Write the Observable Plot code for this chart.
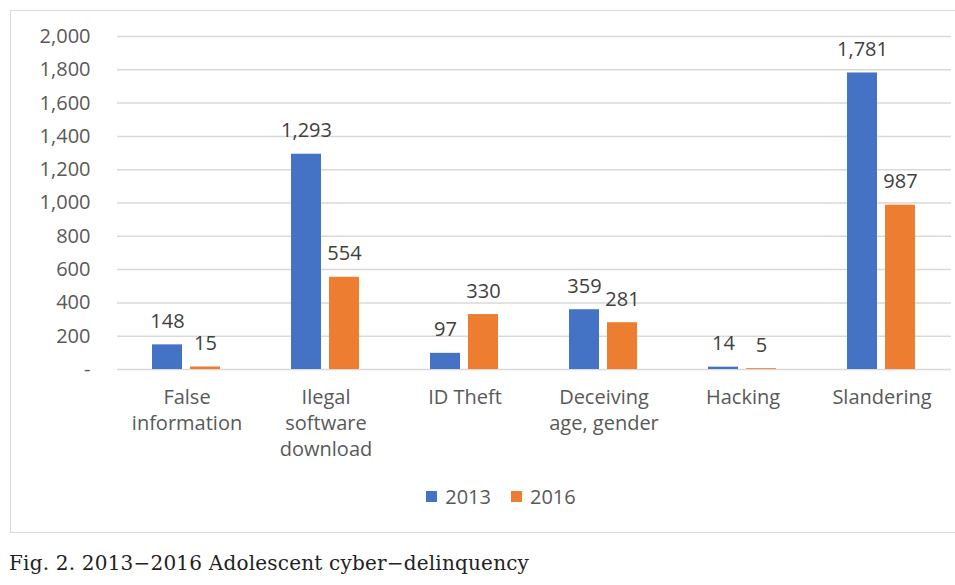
<!DOCTYPE html>
<html>
<head>
<meta charset="utf-8">
<script src="https://cdn.jsdelivr.net/npm/d3@7"></script>
<script src="https://cdn.jsdelivr.net/npm/@observablehq/plot@0.6"></script>
<style>
  html, body { margin: 0; padding: 0; background: #fff; width: 955px; height: 585px; overflow: hidden; position: relative; }
  .box { position: absolute; left: 10px; top: 10px; width: 980px; height: 521px; border: 1.5px solid #d9d9d9; }
  #chart { position: absolute; left: 0; top: 0; }
  .legend { position: absolute; top: 483px; left: 0; width: 1002px; display: flex; justify-content: center; align-items: center; gap: 0; font-family: "Open Sans", sans-serif; font-size: 20px; color: #595959; }
  .legend .item { display: flex; align-items: center; margin: 0 10px; }
  .legend .sw { width: 11px; height: 11px; margin-right: 8px; }
  .caption { position: absolute; left: 9px; top: 551px; font-family: "DejaVu Serif", serif; font-size: 20px; letter-spacing: 0.2px; color: #222; white-space: nowrap; }
</style>
</head>
<body>
<div class="box"></div>
<div id="chart"></div>
<div class="legend" id="legend"></div>
<div class="caption">Fig. 2. 2013−2016 Adolescent cyber−delinquency</div>
<script>
const categories = ["False\ninformation", "Ilegal\nsoftware\ndownload", "ID Theft", "Deceiving\nage, gender", "Hacking", "Slandering"];
const years = ["2013", "2016"];
const values2013 = [148, 1293, 97, 359, 14, 1781];
const values2016 = [15, 554, 330, 281, 5, 987];
const yTicks = [0, 200, 400, 600, 800, 1000, 1200, 1400, 1600, 1800, 2000];
const colors = ["#4472C4", "#ED7D31"];

const data = [];
categories.forEach((c, i) => {
  data.push({cat: c, year: years[0], value: values2013[i]});
  data.push({cat: c, year: years[1], value: values2016[i]});
});
const fmt = d3.format(",");
const font = "'Open Sans', sans-serif";

const chart = Plot.plot({
  width: 955,
  height: 470,
  marginLeft: 115,
  marginRight: 2,
  marginTop: 36,
  marginBottom: 101,
  style: {fontFamily: font, fontSize: "20px", color: "#595959", background: "transparent"},
  fx: {domain: categories, padding: 0, label: null},
  x: {domain: years, paddingInner: 0.2, paddingOuter: 0.9, axis: null},
  y: {domain: [0, 2000], label: null},
  color: {domain: years, range: colors},
  marks: [
    Plot.gridY(yTicks, {stroke: "#d9d9d9", strokeOpacity: 1, strokeWidth: 1.5}),
    Plot.axisY({ticks: yTicks, tickSize: 0, tickPadding: 27, label: null,
      tickFormat: d => d === 0 ? "-" : fmt(d), fontSize: 20, fill: "#595959"}),
    Plot.barY(data, {fx: "cat", x: "year", y: "value", fill: "year"}),
    Plot.text(data, {fx: "cat", x: "year", y: "value", text: d => fmt(d.value),
      lineAnchor: "bottom", dy: -17, fontSize: 20, fill: "#404040"}),
    Plot.axisFx({anchor: "bottom", tickSize: 0, tickPadding: 16, label: null,
      lineHeight: 1.3, fontSize: 20, fill: "#595959"})
  ]
});
document.getElementById("chart").appendChild(chart);

const legend = document.getElementById("legend");
years.forEach((y, i) => {
  const item = document.createElement("div");
  item.className = "item";
  const sw = document.createElement("span");
  sw.className = "sw";
  sw.style.background = colors[i];
  const t = document.createElement("span");
  t.textContent = y;
  item.appendChild(sw);
  item.appendChild(t);
  legend.appendChild(item);
});
</script>
</body>
</html>
